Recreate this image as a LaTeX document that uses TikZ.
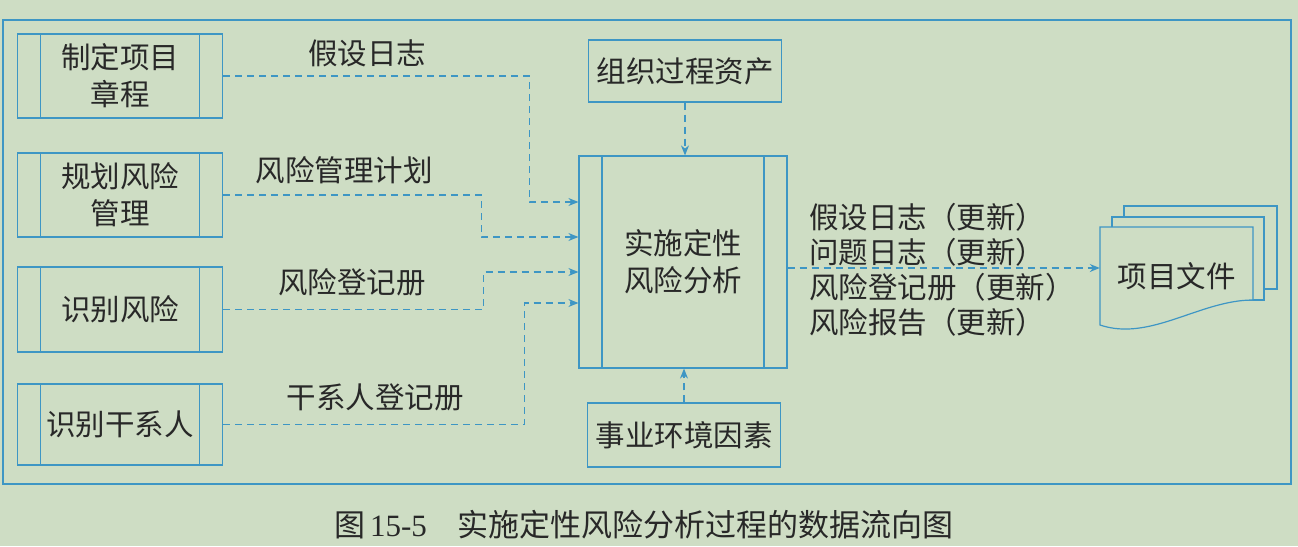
\documentclass[tikz,border=0pt]{standalone}
\usepackage{fontspec}
\setmainfont{Liberation Serif}
\newfontfamily\cjk{Noto Sans CJK SC}
\usetikzlibrary{arrows.meta,calc}
\definecolor{bgc}{RGB}{206,221,196}
\definecolor{lc}{RGB}{62,150,196}
\definecolor{tc}{RGB}{40,40,40}
\begin{document}
\begin{tikzpicture}[x=1pt,y=-1pt,
  every node/.style={text=tc},
  lab/.style={font=\cjk\fontsize{29.5}{37}\selectfont, align=center, inner sep=0pt},
  plainbox/.style={draw=lc, line width=1.2pt, lab},
  procbox/.style={plainbox, path picture={
     \draw[lc, line width=1.2pt] ([xshift=23pt]path picture bounding box.north west) -- ([xshift=23pt]path picture bounding box.south west);
     \draw[lc, line width=1.2pt] ([xshift=-23pt]path picture bounding box.north east) -- ([xshift=-23pt]path picture bounding box.south east);}},
  flow/.style={draw=lc, line width=1.2pt, dash pattern=on 7pt off 5pt, -{Stealth[length=10pt,width=8pt]}},
  docsheet/.style={fill=bgc, draw=lc, line width=1.2pt}]
\fill[bgc] (0,0) rectangle (1298,546);
\draw[lc, line width=1.4pt] (3,20) rectangle (1291,484);
% left process boxes
\node[procbox, minimum width=205pt, minimum height=84pt] (b1) at (120,76) {制定项目\\章程};
\node[procbox, minimum width=205pt, minimum height=84pt] (b2) at (120,195) {规划风险\\管理};
\node[procbox, minimum width=205pt, minimum height=85pt] (b3) at (120,309.5) {识别风险};
\node[procbox, minimum width=205pt, minimum height=81pt] (b4) at (120,424.5) {识别干系人};
% central process
\node[procbox, minimum width=208pt, minimum height=212pt] (main) at (683,262) {实施定性\\风险分析};
\node[plainbox, minimum width=193pt, minimum height=62pt] (opa) at (685,71) {组织过程资产};
\node[plainbox, minimum width=193pt, minimum height=64pt] (eef) at (684,435) {事业环境因素};
% labels
\node[lab] (l1) at (367,53) {假设日志};
\node[lab] (l2) at (344,170) {风险管理计划};
\node[lab] (l3) at (352,282) {风险登记册};
\node[lab] (l4) at (375,397) {干系人登记册};
\node[lab, align=left, anchor=west, font=\cjk\fontsize{29.5}{35}\selectfont] (outl) at (809,269.5) {假设日志（更新）\\问题日志（更新）\\风险登记册（更新）\\风险报告（更新）};
% documents
\filldraw[docsheet] (1124,206) rectangle (1277,289);
\filldraw[docsheet] (1112,217) rectangle (1264,300);
\filldraw[docsheet] (1100,227) -- (1253,227) -- (1253,300) .. controls (1200,300) and (1150,342) .. (1100,325) -- cycle;
\node[lab, minimum width=153pt, minimum height=98pt] (doc) at (1176.5,276) {项目文件};
% connectors
\draw[flow] (b1.east) -- ++(306,0) |- ([yshift=60pt]main.west);
\draw[flow] (b2.east) -- ++(258,0) |- ([yshift=25pt]main.west);
\draw[flow] (b3.east) -- ++(260,0) |- ([yshift=-10pt]main.west);
\draw[flow] (b4.east) -- ++(301,0) |- ([yshift=-41pt]main.west);
\draw[flow] (opa.south) -- (opa.south |- main.north);
\draw[flow] (eef.north) -- (eef.north |- main.south);
\draw[flow] ([yshift=-6pt]main.east) -- ([yshift=-6pt]main.east -| doc.west);
% caption
\node[inner sep=0pt, font=\fontsize{31}{31}\selectfont] (cap) at (644,525) {{\cjk 图}\,15-5\hspace{1em}{\cjk 实施定性风险分析过程的数据流向图}};
\end{tikzpicture}
\end{document}
